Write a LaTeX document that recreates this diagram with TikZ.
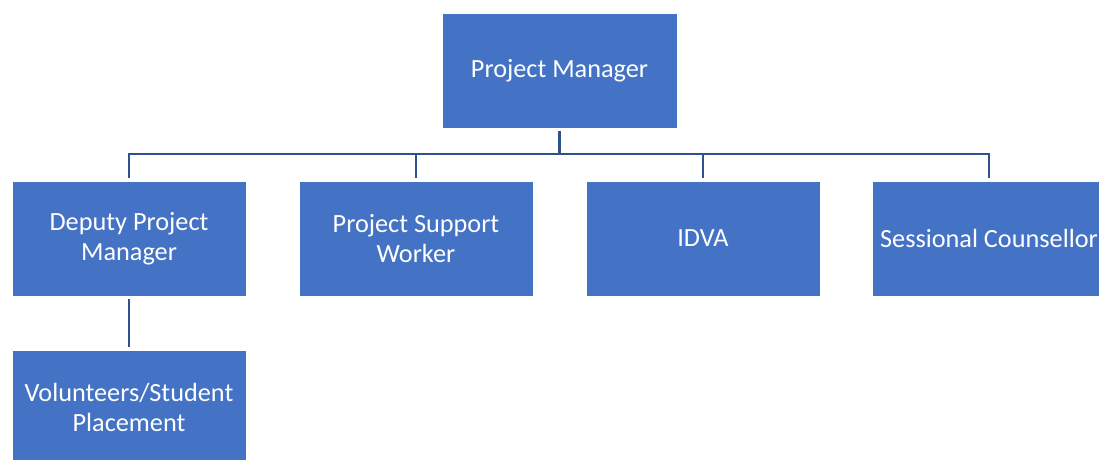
\documentclass[tikz,border=0pt]{standalone}
\usepackage{fontspec}
\setmainfont{Carlito}
\definecolor{boxblue}{HTML}{4472C4}
\definecolor{lineblue}{HTML}{2F528F}
\begin{document}
\begin{tikzpicture}[x=0.75pt,y=-0.75pt,
  orgbox/.style={rectangle, fill=boxblue, draw=white, line width=0.6pt,
    minimum width=175.5pt, minimum height=86.25pt, inner sep=0pt,
    text=white, align=center,
    font=\fontsize{19.7pt}{22.5pt}\selectfont},
  conn/.style={draw=lineblue, line width=2.2pt, line join=miter,
    shorten <=2.2pt, shorten >=2.2pt}]
\useasboundingbox (0,0) rectangle (1099,460);
\clip (0,0) rectangle (1099,460);
\fill[white] (0,0) rectangle (1099,460);
\node[orgbox, minimum width=176.25pt] (pm) at (559.5,70.5) {Project Manager};
\node[orgbox] (dpm) at (129,238.5) {Deputy Project\\Manager};
\node[orgbox] (psw) at (416,238.5) {Project Support\\Worker};
\node[orgbox] (idva) at (703,238.5) {IDVA};
\node[orgbox] (sc) at (989,238.5) {Sessional Counsellor};
\node[orgbox] (vol) at (129,407.5) {Volunteers/Student\\Placement};
\coordinate (bus) at (559.5,154);
\foreach \c in {dpm,psw,idva,sc}{
  \draw[conn] (pm.south) -- (pm.south |- bus) -| (\c.north);
}
\draw[conn] (dpm.south) -- (vol.north);
\end{tikzpicture}
\end{document}
